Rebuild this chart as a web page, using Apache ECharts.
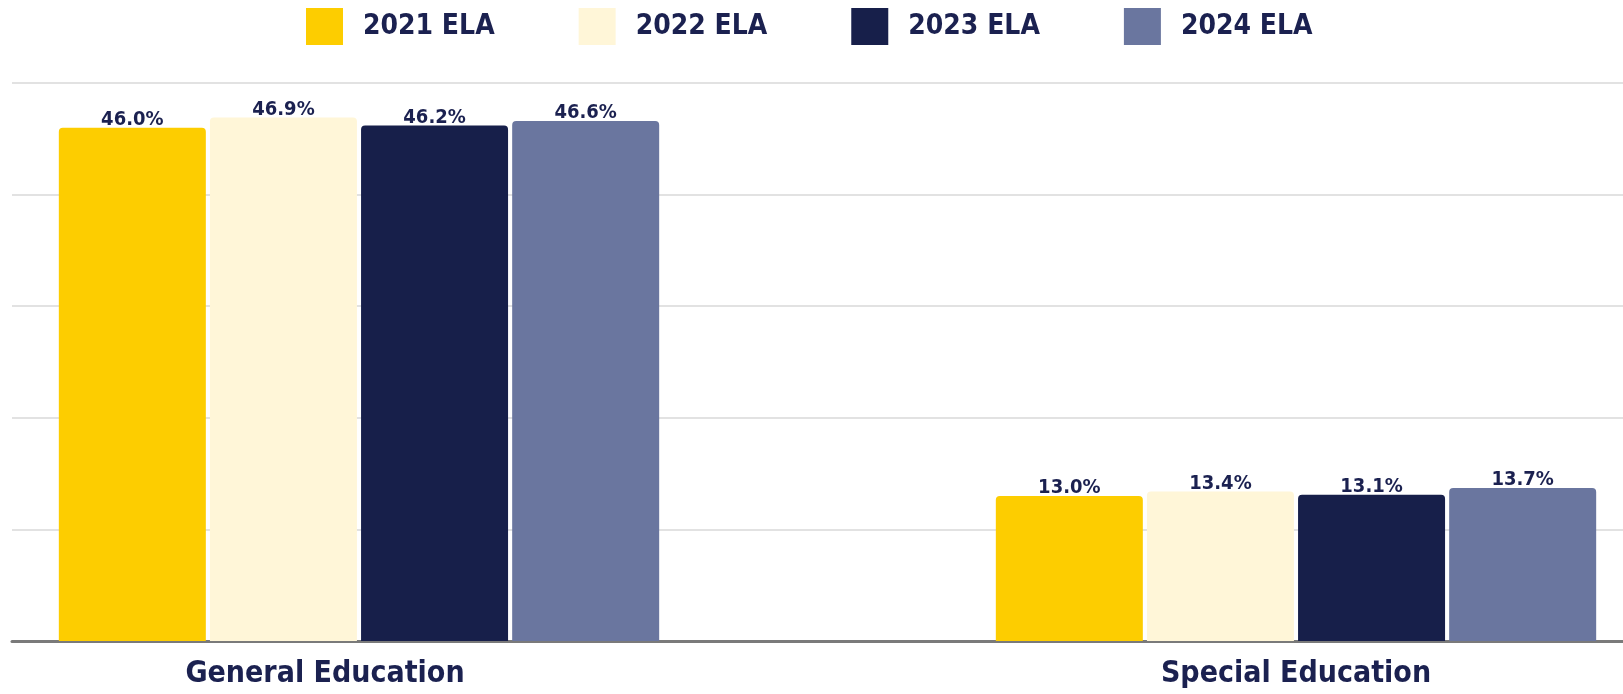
<!DOCTYPE html>
<html>
<head>
<meta charset="utf-8">
<script src="https://cdn.jsdelivr.net/npm/echarts@6/dist/echarts.min.js"></script>
<style>
html,body{margin:0;padding:0;background:#fff;}
#chart{width:1623px;height:694px;}
</style>
</head>
<body>
<div id="chart"></div>
<script>
const categories = ['General Education', 'Special Education'];
const seriesNames = ['2021 ELA', '2022 ELA', '2023 ELA', '2024 ELA'];
const ela2021 = [46.0, 13.0];
const ela2022 = [46.9, 13.4];
const ela2023 = [46.2, 13.1];
const ela2024 = [46.6, 13.7];
const colors = ['#FDCD00', '#FFF6D8', '#171F4A', '#6A769F'];
const yMin = 0, yMax = 50, yInterval = 10;

const FONT = '"Liberation Sans Narrow", "DejaVu Sans Condensed", "Liberation Sans", sans-serif';
const NAVY = '#1B2150';

const values = [ela2021, ela2022, ela2023, ela2024];
const chart = echarts.init(document.getElementById('chart'));

const series = seriesNames.map((name, i) => ({
  name: name,
  type: 'bar',
  xAxisIndex: 1,
  yAxisIndex: 1,
  data: values[i],
  barWidth: 147,
  barGap: '2.8%',
  itemStyle: { color: colors[i], borderRadius: [4, 4, 0, 0] },
  label: {
    show: true,
    position: 'top',
    distance: -2,
    formatter: p => p.value.toFixed(1) + '%',
    fontFamily: FONT,
    fontWeight: 'bold',
    fontSize: 20,
    color: NAVY
  }
}));

chart.setOption({
  backgroundColor: '#fff',
  animation: false,
  legend: {
    top: 8,
    left: 306,
    padding: 0,
    icon: 'rect',
    itemWidth: 37,
    itemHeight: 37,
    itemGap: 84,
    data: seriesNames,
    textStyle: {
      fontFamily: FONT,
      fontWeight: 'bold',
      fontSize: 28,
      color: NAVY,
      padding: [0, 0, 0, 15]
    }
  },
  grid: [
    { left: 12, right: 0, top: 83, bottom: 53, containLabel: false },
    { left: 359, right: 327, top: 83, bottom: 53, containLabel: false }
  ],
  xAxis: [
    {
      gridIndex: 0, type: 'value', min: 0, max: 1,
      axisLine: { show: true, onZero: true, lineStyle: { color: '#7a7a7a', width: 3 } },
      axisTick: { show: false }, axisLabel: { show: false }, splitLine: { show: false }
    },
    {
      gridIndex: 1, type: 'category', data: categories, boundaryGap: false,
      axisLine: { show: false }, axisTick: { show: false }, splitLine: { show: false },
      axisLabel: {
        margin: 18,
        fontFamily: FONT,
        fontWeight: 'bold',
        fontSize: 30,
        color: NAVY,
        formatter: v => v === categories[0] ? '{g|' + v + '}' : '{s|' + v + '}',
        rich: {
          g: { padding: [0, 68, 0, 0], fontFamily: FONT, fontWeight: 'bold', fontSize: 30, color: NAVY },
          s: { fontFamily: FONT, fontWeight: 'bold', fontSize: 30, color: NAVY }
        }
      }
    }
  ],
  yAxis: [
    {
      gridIndex: 0, type: 'value', min: yMin, max: yMax, interval: yInterval,
      axisLine: { show: false }, axisTick: { show: false }, axisLabel: { show: false },
      splitLine: { show: true, lineStyle: { color: '#e2e2e2', width: 2 } }
    },
    {
      gridIndex: 1, type: 'value', min: yMin, max: yMax, interval: yInterval,
      axisLine: { show: false }, axisTick: { show: false }, axisLabel: { show: false },
      splitLine: { show: false }
    }
  ],
  series: series
});
</script>
</body>
</html>
